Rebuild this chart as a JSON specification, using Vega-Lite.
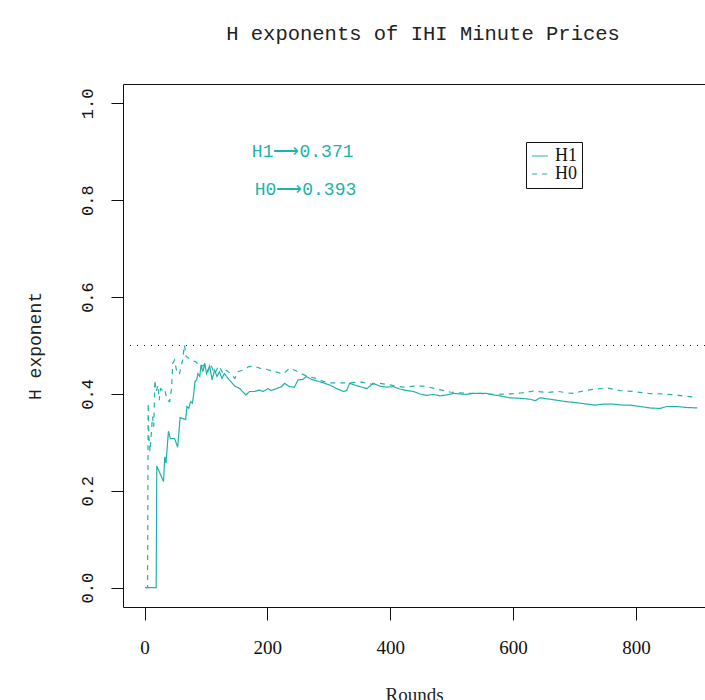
{
  "$schema": "https://vega.github.io/schema/vega-lite/v6.json",
  "width": 582,
  "height": 523,
  "autosize": {"type": "none"},
  "padding": {"left": 123, "top": 84, "right": 0, "bottom": 93},
  "background": "white",
  "title": {"text": "H exponents of IHI Minute Prices", "font": "Liberation Mono", "fontSize": 20.5, "fontWeight": "normal", "color": "#222", "offset": 40, "dx": 9},
  "config": {
    "view": {"stroke": "#111", "strokeWidth": 1},
    "axis": {"grid": false, "domain": false, "tickColor": "#111", "labelColor": "#111", "titleColor": "#222", "titleFontWeight": "normal"}
  },
  "datasets": {
    "hseries": [
      {"round": 1, "H": 0, "series": "H1"},
      {"round": 19, "H": 0, "series": "H1"},
      {"round": 20, "H": 0.251, "series": "H1"},
      {"round": 31, "H": 0.219, "series": "H1"},
      {"round": 33, "H": 0.27, "series": "H1"},
      {"round": 35, "H": 0.257, "series": "H1"},
      {"round": 39, "H": 0.323, "series": "H1"},
      {"round": 42, "H": 0.308, "series": "H1"},
      {"round": 49, "H": 0.308, "series": "H1"},
      {"round": 54, "H": 0.29, "series": "H1"},
      {"round": 58, "H": 0.351, "series": "H1"},
      {"round": 67, "H": 0.347, "series": "H1"},
      {"round": 69, "H": 0.374, "series": "H1"},
      {"round": 72, "H": 0.37, "series": "H1"},
      {"round": 75, "H": 0.384, "series": "H1"},
      {"round": 78, "H": 0.381, "series": "H1"},
      {"round": 80, "H": 0.398, "series": "H1"},
      {"round": 82, "H": 0.425, "series": "H1"},
      {"round": 85, "H": 0.429, "series": "H1"},
      {"round": 87, "H": 0.442, "series": "H1"},
      {"round": 90, "H": 0.436, "series": "H1"},
      {"round": 92, "H": 0.46, "series": "H1"},
      {"round": 95, "H": 0.446, "series": "H1"},
      {"round": 98, "H": 0.463, "series": "H1"},
      {"round": 101, "H": 0.442, "series": "H1"},
      {"round": 103, "H": 0.449, "series": "H1"},
      {"round": 106, "H": 0.458, "series": "H1"},
      {"round": 110, "H": 0.429, "series": "H1"},
      {"round": 114, "H": 0.449, "series": "H1"},
      {"round": 118, "H": 0.436, "series": "H1"},
      {"round": 122, "H": 0.446, "series": "H1"},
      {"round": 126, "H": 0.432, "series": "H1"},
      {"round": 130, "H": 0.442, "series": "H1"},
      {"round": 138, "H": 0.429, "series": "H1"},
      {"round": 147, "H": 0.416, "series": "H1"},
      {"round": 155, "H": 0.411, "series": "H1"},
      {"round": 165, "H": 0.398, "series": "H1"},
      {"round": 171, "H": 0.405, "series": "H1"},
      {"round": 179, "H": 0.405, "series": "H1"},
      {"round": 187, "H": 0.408, "series": "H1"},
      {"round": 193, "H": 0.405, "series": "H1"},
      {"round": 201, "H": 0.411, "series": "H1"},
      {"round": 206, "H": 0.407, "series": "H1"},
      {"round": 215, "H": 0.411, "series": "H1"},
      {"round": 223, "H": 0.415, "series": "H1"},
      {"round": 228, "H": 0.422, "series": "H1"},
      {"round": 236, "H": 0.415, "series": "H1"},
      {"round": 244, "H": 0.414, "series": "H1"},
      {"round": 250, "H": 0.429, "series": "H1"},
      {"round": 258, "H": 0.43, "series": "H1"},
      {"round": 263, "H": 0.436, "series": "H1"},
      {"round": 272, "H": 0.43, "series": "H1"},
      {"round": 280, "H": 0.427, "series": "H1"},
      {"round": 291, "H": 0.423, "series": "H1"},
      {"round": 302, "H": 0.418, "series": "H1"},
      {"round": 313, "H": 0.411, "series": "H1"},
      {"round": 324, "H": 0.405, "series": "H1"},
      {"round": 329, "H": 0.407, "series": "H1"},
      {"round": 334, "H": 0.422, "series": "H1"},
      {"round": 343, "H": 0.418, "series": "H1"},
      {"round": 351, "H": 0.415, "series": "H1"},
      {"round": 362, "H": 0.411, "series": "H1"},
      {"round": 367, "H": 0.416, "series": "H1"},
      {"round": 372, "H": 0.422, "series": "H1"},
      {"round": 383, "H": 0.416, "series": "H1"},
      {"round": 394, "H": 0.414, "series": "H1"},
      {"round": 405, "H": 0.415, "series": "H1"},
      {"round": 416, "H": 0.41, "series": "H1"},
      {"round": 427, "H": 0.407, "series": "H1"},
      {"round": 438, "H": 0.405, "series": "H1"},
      {"round": 448, "H": 0.4, "series": "H1"},
      {"round": 459, "H": 0.397, "series": "H1"},
      {"round": 470, "H": 0.399, "series": "H1"},
      {"round": 481, "H": 0.396, "series": "H1"},
      {"round": 492, "H": 0.398, "series": "H1"},
      {"round": 503, "H": 0.401, "series": "H1"},
      {"round": 514, "H": 0.4, "series": "H1"},
      {"round": 524, "H": 0.399, "series": "H1"},
      {"round": 535, "H": 0.401, "series": "H1"},
      {"round": 546, "H": 0.401, "series": "H1"},
      {"round": 557, "H": 0.401, "series": "H1"},
      {"round": 568, "H": 0.398, "series": "H1"},
      {"round": 579, "H": 0.396, "series": "H1"},
      {"round": 595, "H": 0.392, "series": "H1"},
      {"round": 611, "H": 0.391, "series": "H1"},
      {"round": 628, "H": 0.389, "series": "H1"},
      {"round": 636, "H": 0.386, "series": "H1"},
      {"round": 644, "H": 0.392, "series": "H1"},
      {"round": 655, "H": 0.39, "series": "H1"},
      {"round": 671, "H": 0.387, "series": "H1"},
      {"round": 687, "H": 0.384, "series": "H1"},
      {"round": 703, "H": 0.382, "series": "H1"},
      {"round": 720, "H": 0.379, "series": "H1"},
      {"round": 733, "H": 0.377, "series": "H1"},
      {"round": 747, "H": 0.379, "series": "H1"},
      {"round": 763, "H": 0.379, "series": "H1"},
      {"round": 777, "H": 0.377, "series": "H1"},
      {"round": 790, "H": 0.377, "series": "H1"},
      {"round": 807, "H": 0.374, "series": "H1"},
      {"round": 823, "H": 0.371, "series": "H1"},
      {"round": 839, "H": 0.37, "series": "H1"},
      {"round": 850, "H": 0.374, "series": "H1"},
      {"round": 866, "H": 0.374, "series": "H1"},
      {"round": 883, "H": 0.372, "series": "H1"},
      {"round": 900, "H": 0.371, "series": "H1"},
      {"round": 1, "H": 0, "series": "H0"},
      {"round": 5, "H": 0, "series": "H0"},
      {"round": 6, "H": 0.381, "series": "H0"},
      {"round": 7, "H": 0.312, "series": "H0"},
      {"round": 9, "H": 0.281, "series": "H0"},
      {"round": 13, "H": 0.353, "series": "H0"},
      {"round": 15, "H": 0.332, "series": "H0"},
      {"round": 17, "H": 0.429, "series": "H0"},
      {"round": 19, "H": 0.405, "series": "H0"},
      {"round": 22, "H": 0.418, "series": "H0"},
      {"round": 24, "H": 0.387, "series": "H0"},
      {"round": 26, "H": 0.411, "series": "H0"},
      {"round": 29, "H": 0.408, "series": "H0"},
      {"round": 31, "H": 0.411, "series": "H0"},
      {"round": 33, "H": 0.408, "series": "H0"},
      {"round": 37, "H": 0.387, "series": "H0"},
      {"round": 41, "H": 0.384, "series": "H0"},
      {"round": 44, "H": 0.411, "series": "H0"},
      {"round": 46, "H": 0.463, "series": "H0"},
      {"round": 49, "H": 0.47, "series": "H0"},
      {"round": 53, "H": 0.442, "series": "H0"},
      {"round": 57, "H": 0.442, "series": "H0"},
      {"round": 62, "H": 0.47, "series": "H0"},
      {"round": 65, "H": 0.501, "series": "H0"},
      {"round": 68, "H": 0.477, "series": "H0"},
      {"round": 79, "H": 0.468, "series": "H0"},
      {"round": 84, "H": 0.466, "series": "H0"},
      {"round": 90, "H": 0.456, "series": "H0"},
      {"round": 98, "H": 0.46, "series": "H0"},
      {"round": 103, "H": 0.446, "series": "H0"},
      {"round": 108, "H": 0.46, "series": "H0"},
      {"round": 114, "H": 0.442, "series": "H0"},
      {"round": 121, "H": 0.458, "series": "H0"},
      {"round": 128, "H": 0.442, "series": "H0"},
      {"round": 133, "H": 0.449, "series": "H0"},
      {"round": 140, "H": 0.442, "series": "H0"},
      {"round": 147, "H": 0.432, "series": "H0"},
      {"round": 152, "H": 0.446, "series": "H0"},
      {"round": 160, "H": 0.449, "series": "H0"},
      {"round": 169, "H": 0.456, "series": "H0"},
      {"round": 177, "H": 0.458, "series": "H0"},
      {"round": 188, "H": 0.453, "series": "H0"},
      {"round": 198, "H": 0.451, "series": "H0"},
      {"round": 212, "H": 0.446, "series": "H0"},
      {"round": 226, "H": 0.441, "series": "H0"},
      {"round": 236, "H": 0.453, "series": "H0"},
      {"round": 245, "H": 0.449, "series": "H0"},
      {"round": 255, "H": 0.442, "series": "H0"},
      {"round": 266, "H": 0.436, "series": "H0"},
      {"round": 280, "H": 0.432, "series": "H0"},
      {"round": 291, "H": 0.426, "series": "H0"},
      {"round": 302, "H": 0.423, "series": "H0"},
      {"round": 318, "H": 0.423, "series": "H0"},
      {"round": 335, "H": 0.423, "series": "H0"},
      {"round": 351, "H": 0.425, "series": "H0"},
      {"round": 370, "H": 0.42, "series": "H0"},
      {"round": 383, "H": 0.422, "series": "H0"},
      {"round": 402, "H": 0.418, "series": "H0"},
      {"round": 421, "H": 0.414, "series": "H0"},
      {"round": 440, "H": 0.416, "series": "H0"},
      {"round": 457, "H": 0.416, "series": "H0"},
      {"round": 476, "H": 0.41, "series": "H0"},
      {"round": 497, "H": 0.404, "series": "H0"},
      {"round": 525, "H": 0.401, "series": "H0"},
      {"round": 546, "H": 0.401, "series": "H0"},
      {"round": 567, "H": 0.399, "series": "H0"},
      {"round": 595, "H": 0.4, "series": "H0"},
      {"round": 614, "H": 0.402, "series": "H0"},
      {"round": 633, "H": 0.406, "series": "H0"},
      {"round": 655, "H": 0.403, "series": "H0"},
      {"round": 674, "H": 0.405, "series": "H0"},
      {"round": 695, "H": 0.401, "series": "H0"},
      {"round": 714, "H": 0.406, "series": "H0"},
      {"round": 733, "H": 0.41, "series": "H0"},
      {"round": 755, "H": 0.412, "series": "H0"},
      {"round": 774, "H": 0.407, "series": "H0"},
      {"round": 796, "H": 0.405, "series": "H0"},
      {"round": 820, "H": 0.401, "series": "H0"},
      {"round": 842, "H": 0.4, "series": "H0"},
      {"round": 864, "H": 0.398, "series": "H0"},
      {"round": 883, "H": 0.395, "series": "H0"},
      {"round": 900, "H": 0.393, "series": "H0"}
    ],
    "reference": [{"level": 0.5}],
    "note1": [{"label": "H1⟶0.371"}],
    "note0": [{"label": "H0⟶0.393"}]
  },
  "layer": [
    {
      "data": {"name": "reference"},
      "mark": {"type": "rule", "strokeDash": [1, 6], "color": "#222", "strokeWidth": 1},
      "encoding": {"y": {"field": "level", "type": "quantitative"}}
    },
    {
      "data": {"name": "hseries"},
      "mark": {"type": "line", "color": "#20B2AA", "strokeWidth": 1.2, "clip": true},
      "encoding": {
        "x": {
          "field": "round", "type": "quantitative",
          "scale": {"domain": [-35, 912.4], "nice": false, "zero": false},
          "axis": {"values": [0, 200, 400, 600, 800], "title": "Rounds", "tickSize": 13, "labelFont": "Liberation Serif", "labelFontSize": 19, "labelPadding": 18, "labelFlush": false, "titleFont": "Liberation Serif", "titleFontSize": 19, "titlePadding": 28}
        },
        "y": {
          "field": "H", "type": "quantitative",
          "scale": {"domain": [-0.04, 1.04], "nice": false, "zero": false},
          "axis": {"values": [0, 0.2, 0.4, 0.6, 0.8, 1], "format": ".1f", "title": "H exponent", "tickSize": 12, "labelAngle": -90, "labelAlign": "center", "labelBaseline": "middle", "labelPadding": 24, "labelFont": "Liberation Mono", "labelFontSize": 17, "titleFont": "Liberation Mono", "titleFontSize": 18, "titlePadding": 34}
        },
        "strokeDash": {
          "field": "series", "type": "nominal",
          "scale": {"domain": ["H1", "H0"], "range": [[1, 0], [5, 5]]},
          "legend": {"title": null, "orient": "none", "legendX": 403, "legendY": 58, "strokeColor": "#111", "padding": 5, "labelFont": "Liberation Serif", "labelFontSize": 18, "labelColor": "#111", "symbolType": "stroke", "symbolStrokeColor": "#20B2AA", "symbolStrokeWidth": 1.2, "symbolSize": 250, "rowPadding": -2, "labelOffset": 6}
        }
      }
    },
    {
      "data": {"name": "note1"},
      "mark": {"type": "text", "font": "Liberation Mono", "fontSize": 18, "color": "#20B2AA", "align": "center", "baseline": "middle"},
      "encoding": {
        "x": {"datum": 257.5, "type": "quantitative"},
        "y": {"datum": 0.899, "type": "quantitative"},
        "text": {"field": "label"}
      }
    },
    {
      "data": {"name": "note0"},
      "mark": {"type": "text", "font": "Liberation Mono", "fontSize": 18, "color": "#20B2AA", "align": "center", "baseline": "middle"},
      "encoding": {
        "x": {"datum": 262, "type": "quantitative"},
        "y": {"datum": 0.821, "type": "quantitative"},
        "text": {"field": "label"}
      }
    }
  ]
}
